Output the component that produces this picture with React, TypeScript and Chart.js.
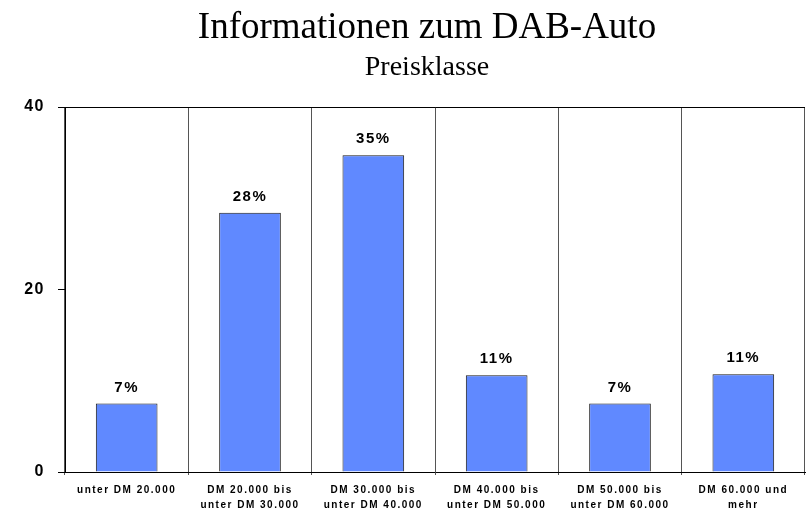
import React, { useEffect, useRef } from 'react';
import { Chart, registerables } from 'chart.js';

Chart.register(...registerables);

const TITLE = 'Informationen zum DAB-Auto';
const SUBTITLE = 'Preisklasse';

const categories: string[][] = [
  ['unter DM 20.000'],
  ['DM 20.000 bis', 'unter DM 30.000'],
  ['DM 30.000 bis', 'unter DM 40.000'],
  ['DM 40.000 bis', 'unter DM 50.000'],
  ['DM 50.000 bis', 'unter DM 60.000'],
  ['DM 60.000 und', 'mehr'],
];
const values: number[] = [7.5, 28.4, 34.7, 10.6, 7.5, 10.7];
const valueLabels: string[] = ['7%', '28%', '35%', '11%', '7%', '11%'];
const yTicks: number[] = [0, 20, 40];

const SANS = 'Arial, "Liberation Sans", sans-serif';
const SERIF = '"Times New Roman", "Liberation Serif", serif';

const decorPlugin = {
  id: 'decor',
  beforeDraw(chart: any) {
    chart.ctx.letterSpacing = '1.5px';
  },
  afterDatasetsDraw(chart: any) {
    const ctx = chart.ctx;
    const meta = chart.getDatasetMeta(0);
    ctx.save();
    ctx.letterSpacing = '1.5px';
    ctx.font = `bold 15px ${SANS}`;
    ctx.fillStyle = '#000';
    ctx.textAlign = 'center';
    ctx.textBaseline = 'alphabetic';
    meta.data.forEach((bar: any, i: number) => {
      ctx.fillText(valueLabels[i], bar.x, bar.y - 12);
    });
    ctx.restore();
  },
  afterDraw(chart: any) {
    const ctx = chart.ctx;
    const area = chart.chartArea;
    const cx = (area.left + area.right) / 2 - 8;
    ctx.save();
    ctx.letterSpacing = '0px';
    ctx.fillStyle = '#000';
    ctx.textAlign = 'center';
    ctx.textBaseline = 'alphabetic';
    ctx.font = `37px ${SERIF}`;
    ctx.fillText(TITLE, cx, 38);
    ctx.font = `28px ${SERIF}`;
    ctx.fillText(SUBTITLE, cx, 75);
    ctx.restore();
  },
};

export default function App() {
  const canvasRef = useRef<HTMLCanvasElement | null>(null);

  useEffect(() => {
    document.body.style.margin = '0';
    const canvas = canvasRef.current;
    if (!canvas) return;
    const chart = new Chart(canvas, {
      type: 'bar',
      data: {
        labels: categories,
        datasets: [
          {
            data: values,
            backgroundColor: '#6089FF',
            borderColor: '#1a1a1a',
            borderWidth: 1,
            barPercentage: 0.5,
            categoryPercentage: 1,
          },
        ],
      },
      options: {
        responsive: false,
        animation: false,
        devicePixelRatio: 1,
        layout: { padding: { top: 107, right: 2, left: 0, bottom: 0 } },
        plugins: {
          legend: { display: false },
          tooltip: { enabled: false },
          title: { display: false },
        },
        scales: {
          x: {
            grid: {
              color: '#555',
              lineWidth: 1,
              tickLength: 3,
              offset: true,
              tickColor: '#555',
            },
            border: { display: true, color: '#000', width: 1 },
            ticks: {
              font: { family: SANS, size: 10, weight: 'bold', lineHeight: 1.5 },
              color: '#000',
              padding: 8,
              maxRotation: 0,
              autoSkip: false,
            },
            afterFit: (s: any) => {
              s.height = 40;
            },
          },
          y: {
            min: 0,
            max: 40,
            afterBuildTicks: (s: any) => {
              s.ticks = yTicks.map((v) => ({ value: v }));
            },
            grid: {
              color: (c: any) => (c.tick && c.tick.value === 40 ? '#000' : 'rgba(0,0,0,0)'),
              tickColor: '#000',
              tickLength: 7,
            },
            border: { display: true, color: '#000', width: 1 },
            ticks: {
              font: { family: SANS, size: 16, weight: 'bold' },
              color: '#000',
              padding: 13,
            },
            afterFit: (s: any) => {
              s.width = 65;
            },
          },
        },
      } as any,
      plugins: [decorPlugin],
    });
    return () => chart.destroy();
  }, []);

  return (
    <div style={{ width: 807, height: 512 }}>
      <canvas ref={canvasRef} width={807} height={512} style={{ display: 'block' }} />
    </div>
  );
}
